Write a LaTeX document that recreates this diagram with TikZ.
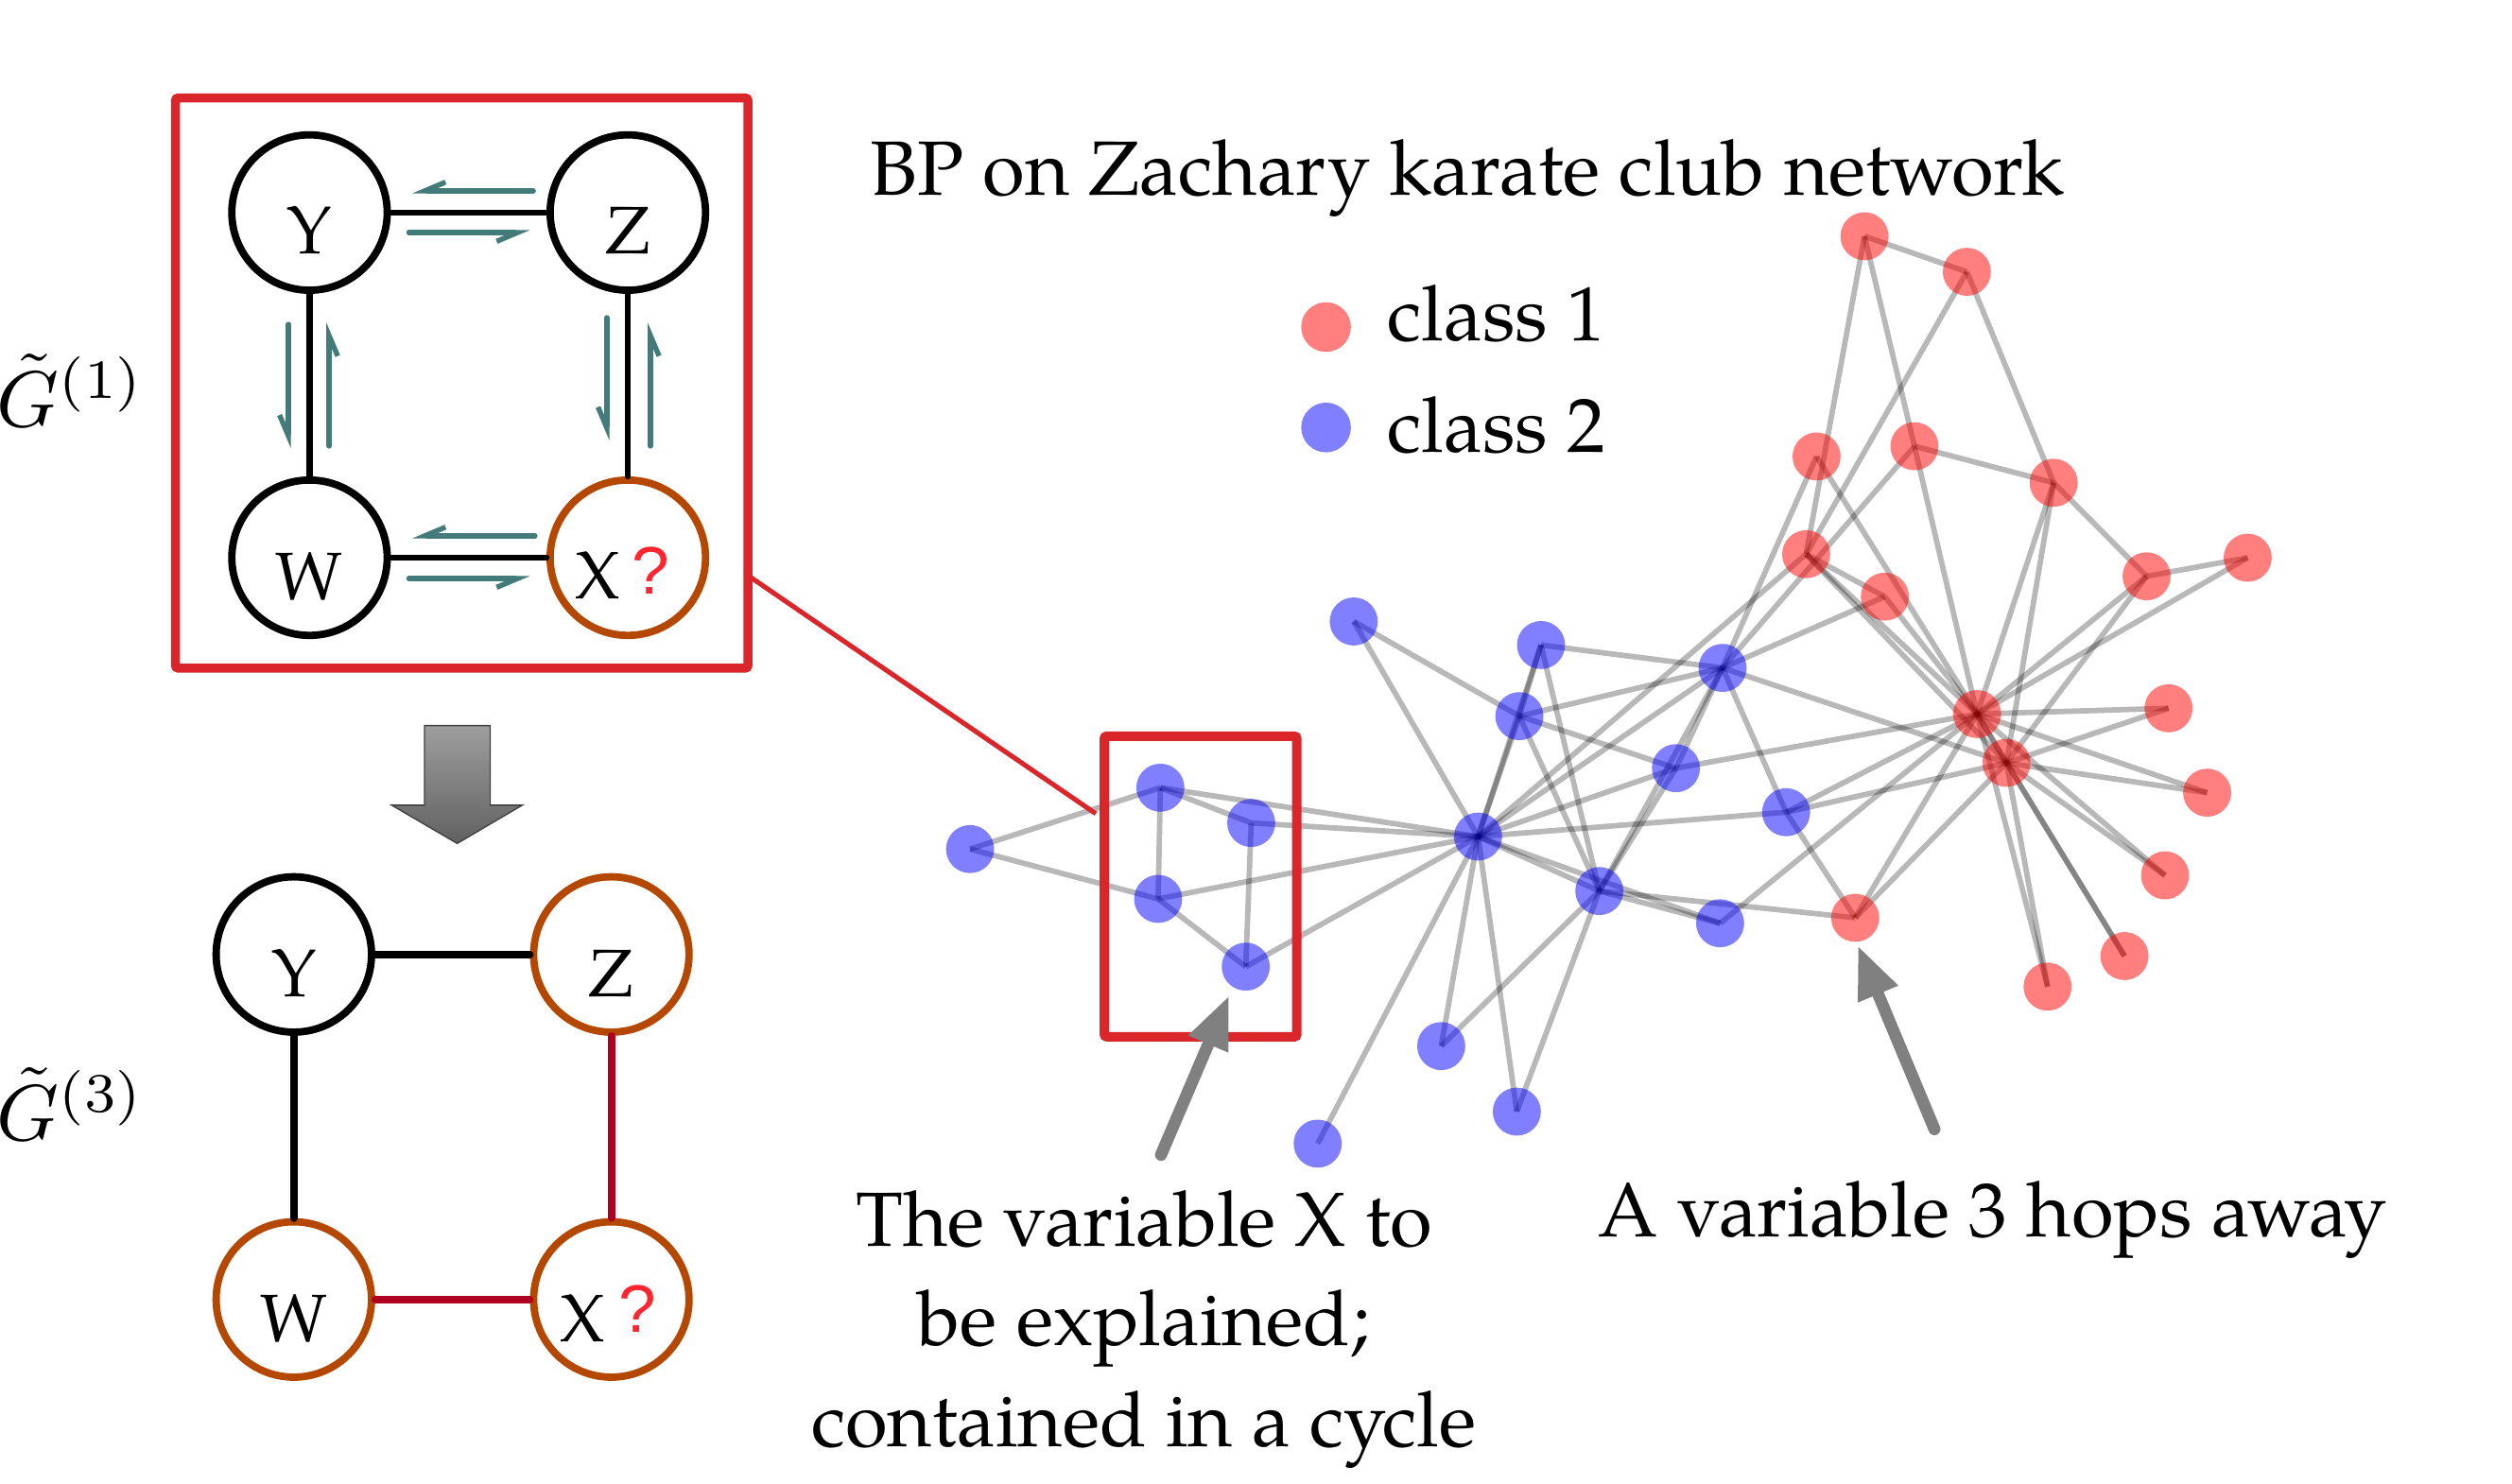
\documentclass[tikz,border=0pt]{standalone}
\usepackage{graphicx}
\usepackage[no-math]{fontspec}
\setmainfont{TeX Gyre Pagella}
\newfontfamily\qfont{Liberation Sans}
\usetikzlibrary{arrows.meta,calc}
\pgfdeclarelayer{bg}
\pgfsetlayers{bg,main}
\definecolor{boxred}{RGB}{218,37,42}
\definecolor{msgteal}{RGB}{67,122,122}
\definecolor{nodeorange}{RGB}{180,72,0}
\definecolor{edgered}{RGB}{176,0,34}
\definecolor{qred}{RGB}{255,38,48}
\definecolor{ptrgray}{RGB}{128,128,128}
\tikzset{
 gnode/.style={circle, draw=black, line width=4.6pt, minimum size=97pt, inner sep=0pt},
 onode/.style={gnode, draw=nodeorange},
 gedge/.style={line width=3.8pt, black, line cap=round},
 bedge/.style={line width=4.6pt, black, line cap=round},
 redge/.style={line width=4.6pt, edgered, line cap=round},
 msg/.style={msgteal, line width=3.2pt, line cap=round, -{Straight Barb[right, length=13pt, width=11pt]}},
 letter/.style={anchor=base, inner sep=0pt, font=\fontsize{42}{46}\selectfont},
 xletter/.style={anchor=base west, inner sep=0pt, font=\fontsize{42}{46}\selectfont},
 kedge/.style={line width=3.4pt, black, opacity=0.28},
 bnode/.style={circle, fill=blue, fill opacity=0.5, minimum size=30pt, inner sep=0pt},
 rnode/.style={circle, fill=red, fill opacity=0.5, minimum size=30pt, inner sep=0pt},
 ptr/.style={ptrgray, line width=7.5pt, line cap=round, -{Triangle[length=33pt, width=25pt]}},
 bigtext/.style={font=\fontsize{48}{58}\selectfont, inner sep=0pt},
 mathlabel/.style={anchor=base west, inner sep=0pt, font=\fontsize{10}{12}\selectfont},
 redbox/.style={draw=boxred, line width=5.6pt, rounded corners=1.5pt, rectangle, inner sep=0pt},
}
\begin{document}
\begin{tikzpicture}[x=1pt, y=-1pt]
\useasboundingbox (0,0) rectangle (1568,926);
\begin{pgfonlayer}{bg}
\fill[white] (0,0) rectangle (1568,926);
\end{pgfonlayer}

% ---------- left: G(1) ----------
\node[redbox, minimum width=357.2pt, minimum height=355.9pt, anchor=north west] (topbox) at (106.8,58.4) {};
\node[gnode] (Y1) at (193.2,132.7) {};
\node[gnode] (Z1) at (391.9,132.7) {};
\node[gnode] (W1) at (193.2,348.2) {};
\node[onode] (X1) at (391.9,348.2) {};
\draw[gedge] (Y1) -- (Z1);
\draw[gedge] (Y1) -- (W1);
\draw[gedge] (Z1) -- (X1);
\draw[gedge] (W1) -- (X1);
\node[letter] (tY1) at (193.2,158.7) {Y};
\node[letter] (tZ1) at (391.9,158.7) {Z};
\node[letter] (tW1) at (193.2,374.2) {W};
\node[xletter] (tX1) at (359,374) {X\hspace{7pt}\raisebox{3pt}{\qfont\color{qred}?}};
% messages
\draw[msg] ($(Z1)+(-59,-13.5)$) -- ($(Y1)+(64,-13.5)$);
\draw[msg] ($(Y1)+(62,12.5)$) -- ($(Z1)+(-61,12.5)$);
\draw[msg] ($(Y1)+(-13.2,69.8)$) -- ($(W1)+(-13.2,-68.2)$);
\draw[msg] ($(W1)+(12.1,-69.7)$) -- ($(Y1)+(12.1,68.7)$);
\draw[msg] ($(Z1)+(-13.1,65.6)$) -- ($(X1)+(-13.1,-73.2)$);
\draw[msg] ($(X1)+(14,-69.7)$) -- ($(Z1)+(14,68.7)$);
\draw[msg] ($(X1)+(-58,-13.6)$) -- ($(W1)+(64,-13.6)$);
\draw[msg] ($(W1)+(62,13)$) -- ($(X1)+(-61,13)$);
\node[mathlabel] (g1) at (-2,266.5) {\scalebox{4.95}{$\tilde{G}^{(1)}$}};

% ---------- big arrow ----------
\shade[top color=black!38, bottom color=black!62, draw=black!75, line width=0.8pt]
  (265,453) -- (306,453) -- (306,502.7) -- (326,502.7) -- (285.4,526.6) -- (244.5,502.7) -- (265,502.7) -- cycle;

% ---------- left: G(3) ----------
\node[gnode] (Y3) at (183.4,595.9) {};
\node[onode] (Z3) at (381.6,595.9) {};
\node[onode] (W3) at (183.4,811.3) {};
\node[onode] (X3) at (381.6,811.3) {};
\draw[bedge] (Y3) -- (Z3);
\draw[bedge] (Y3) -- (W3);
\draw[redge] (Z3) -- (X3);
\draw[redge] (W3) -- (X3);
\node[letter] (tY3) at (183.4,622) {Y};
\node[letter] (tZ3) at (381.6,622) {Z};
\node[letter] (tW3) at (183.4,837.5) {W};
\node[xletter] (tX3) at (349.3,837.8) {X\hspace{9pt}\raisebox{6pt}{\qfont\color{qred}?}};
\node[mathlabel] (g3) at (-2,712) {\scalebox{4.95}{$\tilde{G}^{(3)}$}};

% ---------- network ----------
\foreach \n/\x/\y in {0/922.6/522.3, 1/998.3/556.3, 2/1075.2/417, 3/948.4/447.1, 4/777.6/603.5,
  5/724.3/491.8, 6/722.9/561.2, 7/961.9/402.7, 8/1114.9/507.1, 10/781/513.8, 11/822.5/714,
  12/845/388, 13/1046.1/479.6, 16/605.5/530.1, 17/899.6/653.1, 19/1073.7/576.4, 21/946.8/694}
  \node[bnode] (k\n) at (\x,\y) {};
\foreach \n/\x/\y in {9/1133.9/285, 14/1353.6/442.2, 15/1377.7/494.9, 18/1351.4/546.5,
  20/1326.1/596.9, 22/1278.1/616, 23/1281.9/301.4, 24/1163.8/147.5, 25/1227.7/169.7,
  26/1403/348.2, 27/1195/278.6, 28/1176.5/372.5, 29/1339.9/359.8, 30/1158/573,
  31/1127.4/346, 32/1252.4/476.3, 33/1234.1/445.8}
  \node[rnode] (k\n) at (\x,\y) {};
\begin{pgfonlayer}{bg}
\foreach \a/\b in {0/1,0/2,0/3,0/4,0/5,0/6,0/7,0/8,0/10,0/11,0/12,0/13,0/17,0/19,0/21,0/31,
  1/2,1/3,1/7,1/13,1/17,1/19,1/21,1/30,
  2/3,2/7,2/8,2/9,2/13,2/27,2/28,2/32,
  3/7,3/12,3/13,4/6,4/10,5/6,5/10,5/16,6/16,
  8/30,8/32,8/33,9/33,13/33,14/32,14/33,15/32,15/33,18/32,18/33,19/33,20/32,20/33,22/32,22/33,
  23/25,23/27,23/29,23/32,23/33,24/25,24/27,24/31,25/31,26/29,26/33,27/33,28/31,28/33,
  29/32,29/33,30/32,30/33,31/32,31/33,32/33}
  \draw[kedge] (k\a.center) -- (k\b.center);
\end{pgfonlayer}

% selection box and connector
\node[redbox, line width=5.9pt, minimum width=120.1pt, minimum height=187.6pt, anchor=north west] (selbox) at (686.4,456.7) {};
\coordinate (cA) at (465,358);
\coordinate (cB) at (684,508);
\draw[boxred, line width=3pt] (cA) -- (cB);

% legend and texts
\node[rnode, minimum size=31pt] (leg1) at (827.7,204.2) {};
\node[bnode, minimum size=31pt] (leg2) at (827.7,266.9) {};
\node[bigtext, anchor=base west] (c1) at (866,213) {class 1};
\node[bigtext, anchor=base west] (c2) at (866,282.5) {class 2};
\node[bigtext, anchor=base west] (title) at (543,122) {BP on Zachary karate club network};
\node[bigtext, anchor=base] (t1) at (714,778) {The variable X to};
\node[bigtext, anchor=base] (t2) at (714,840) {be explained;};
\node[bigtext, anchor=base] (t3) at (714,903) {contained in a cycle};
\node[bigtext, anchor=base] (t4) at (1244,772) {A variable 3 hops away};

% pointers
\coordinate (p1t) at (724.7,721);
\coordinate (p1h) at (767.2,621.5);
\coordinate (p2t) at (1207.5,705);
\coordinate (p2h) at (1159.6,590.2);
\draw[ptr] (p1t) -- (p1h);
\draw[ptr] (p2t) -- (p2h);
\end{tikzpicture}
\end{document}
